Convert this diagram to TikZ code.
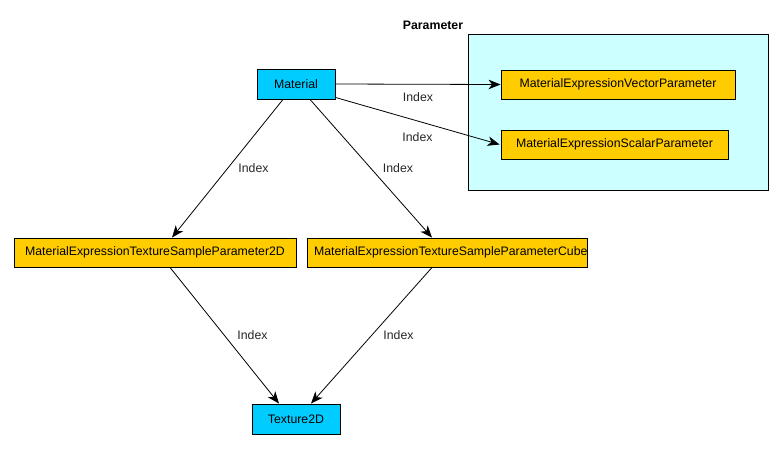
\documentclass[tikz,border=0pt]{standalone}
\usepackage{fontspec}
\setmainfont{Liberation Sans}
\usetikzlibrary{arrows.meta}
\definecolor{cyanbox}{RGB}{0,204,255}
\definecolor{yellowbox}{RGB}{255,204,0}
\definecolor{groupbg}{RGB}{204,255,255}
\begin{document}
\begin{tikzpicture}[x=1pt,y=-1pt,
  font=\fontsize{12.3}{14}\selectfont,
  basebox/.style={draw=black, line width=0.9pt, inner sep=0pt, minimum height=30pt},
  cbox/.style={basebox, fill=cyanbox},
  ybox/.style={basebox, fill=yellowbox, minimum height=29pt},
  grp/.style={draw=black, line width=0.9pt, fill=groupbg, inner sep=0pt},
  conn/.style={draw=black, line width=0.8pt, -{Stealth[length=12pt,width=9.5pt,inset=3.5pt]}},
  lbl/.style={inner sep=0pt, text=black!85}
]
\useasboundingbox (0,0) rectangle (783,450);
% group
\node[grp, minimum width=300pt, minimum height=156pt] (grp) at (618,112) {};
\node[font=\fontsize{12.3}{14}\selectfont\bfseries, inner sep=0pt] (grptitle) at (433,25) {Parameter};
% nodes
\node[cbox, minimum width=78pt] (m) at (296,84) {Material};
\node[ybox, minimum width=234pt] (v) at (618,84.5) {MaterialExpressionVectorParameter};
\node[ybox, minimum width=227pt] (s) at (614.5,144.5) {MaterialExpressionScalarParameter};
\node[ybox, minimum width=282pt] (t2) at (155,252.5) {MaterialExpressionTextureSampleParameter2D};
\node[ybox, minimum width=280pt, inner sep=0pt] (c) at (447,252.5) {\hspace*{7pt}\rlap{MaterialExpressionTextureSampleParameterCube}\hspace*{273pt}};
\node[cbox, minimum width=88pt] (tex) at (296,419) {Texture2D};
% connectors
\draw[conn] (m.east) -- (v.west) node[lbl, midway, yshift=-13pt] (l1) {Index};
\draw[conn] ([yshift=2pt]m.south east) -- ([xshift=-1pt]s.west) node[lbl, pos=0.5, yshift=-16pt] (l2) {Index};
\draw[conn] ([xshift=-13pt]m.south) -- ([xshift=17pt]t2.north) node[lbl, midway, xshift=26pt] (l3) {Index};
\draw[conn] ([xshift=14pt]m.south) -- ([xshift=-15pt]c.north) node[lbl, midway, xshift=27pt] (l4) {Index};
\draw[conn] ([xshift=15pt]t2.south) -- ([xshift=-17pt]tex.north) node[lbl, midway, xshift=28pt] (l5) {Index};
\draw[conn] ([xshift=-15pt]c.south) -- ([xshift=15pt]tex.north) node[lbl, midway, xshift=27pt] (l6) {Index};
\end{tikzpicture}
\end{document}
